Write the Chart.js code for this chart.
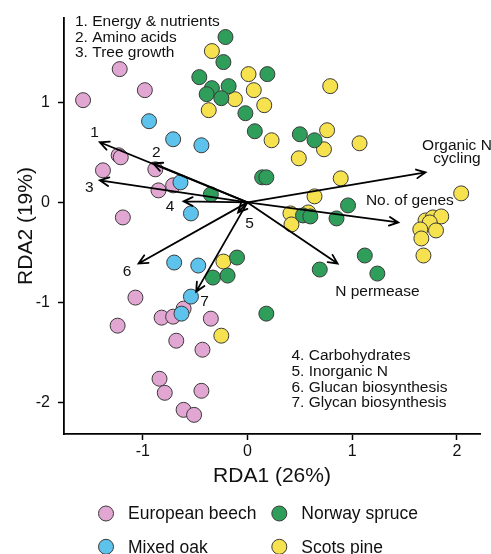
<!DOCTYPE html>
<html>
<head>
<meta charset="utf-8">
<script src="https://cdn.jsdelivr.net/npm/chart.js@4.4.1/dist/chart.umd.min.js"></script>
<style>
  body { margin: 0; background: #fff; }
</style>
</head>
<body>
<canvas id="rda-plot" width="491" height="554"></canvas>
<script>
// site scores
beechX = [-1.22, -0.98, -1.57, -1.23, -1.21, -1.38, -0.88, -0.85, -0.71, -1.19, -1.07, -1.24, -0.82, -0.71, -0.61, -0.35, -0.68, -0.43, -0.84, -0.79, -0.44, -0.61, -0.51];
beechY = [1.33, 1.12, 1.02, 0.47, 0.45, 0.32, 0.33, 0.12, 0.17, -0.15, -0.95, -1.23, -1.15, -1.14, -1.06, -1.16, -1.38, -1.47, -1.76, -1.90, -1.88, -2.07, -2.12];

oakX = [-0.94, -0.71, -0.44, -0.64, -0.54, -0.70, -0.47, -0.54, -0.63];
oakY = [0.81, 0.63, 0.57, 0.20, -0.11, -0.60, -0.63, -0.94, -1.11];

spruceX = [-0.21, -0.23, -0.46, 0.19, -0.34, -0.39, -0.18, -0.25, -0.02, 0.07, 0.14, 0.18, -0.35, 0.50, 0.64, 0.96, 0.53, 0.60, 0.85, 1.12, 0.69, 1.24, 0.18, -0.10, -0.33, -0.19];
spruceY = [1.65, 1.40, 1.25, 1.28, 1.14, 1.08, 1.16, 1.04, 0.89, 0.71, 0.25, 0.25, 0.08, 0.68, 0.62, -0.03, -0.13, -0.14, -0.16, -0.53, -0.67, -0.71, -1.11, -0.55, -0.75, -0.73];

pineX = [-0.34, 0.01, 0.06, -0.12, -0.37, 0.16, 0.23, 0.79, 0.76, 0.73, 1.07, 0.49, 0.89, 0.64, 2.04, 0.41, 0.42, 0.58, 1.70, 1.77, 1.85, 1.74, 1.65, 1.80, 1.66, 1.68, -0.23, -0.25];
pineY = [1.51, 1.28, 1.12, 1.03, 0.92, 0.97, 0.62, 1.16, 0.72, 0.53, 0.59, 0.44, 0.24, 0.06, 0.09, -0.11, -0.22, -0.10, -0.18, -0.15, -0.14, -0.20, -0.27, -0.28, -0.36, -0.53, -0.59, -1.33];

groupNames = ['European beech', 'Norway spruce', 'Mixed oak', 'Scots pine'];

// fitted vectors (arrow tips) and where their labels sit
vectorNames = ['1', '2', '3', '4', '5', '6', '7', 'Organic N|cycling', 'No. of genes', 'N permease'];
vectorX = [-1.41, -0.90, -1.41, -0.61, -0.09, -1.04, -0.49, 1.70, 1.44, 0.86];
vectorY = [0.60, 0.39, 0.22, 0.01, -0.10, -0.61, -0.89, 0.30, -0.20, -0.61];
labelX = [-1.46, -0.87, -1.51, -0.74, 0.02, -1.15, -0.41, 2.00, 1.55, 1.24];
labelY = [0.70, 0.50, 0.15, -0.04, -0.21, -0.69, -0.99, 0.50, 0.02, -0.89];

keyTop = ['1. Energy & nutrients', '2. Amino acids', '3. Tree growth'];
keyBottom = ['4. Carbohydrates', '5. Inorganic N', '6. Glucan biosynthesis', '7. Glycan biosynthesis'];

xTicks = [-1, 0, 1, 2];
yTicks = [-2, -1, 0, 1];

beechColor = '#e2a6d3';
spruceColor = '#2f9e5b';
oakColor = '#5ec3ec';
pineColor = '#f6e14e';
fontFamily = "'Liberation Sans', Arial, Helvetica, sans-serif";
inkColor = '#111111';

Chart.defaults.font.family = fontFamily;
Chart.defaults.color = inkColor;

function toPoints(xs, ys) {
    return xs.map((x, i) => ({ x: x, y: ys[i] }));
}

function pointSet(label, xs, ys, color) {
    return {
        label: label,
        data: toPoints(xs, ys),
        backgroundColor: color,
        borderColor: '#3a3a3a',
        borderWidth: 1,
        pointRadius: 7.5,
        pointHoverRadius: 7.5,
    };
}

// arrows and the two text keys
const vectorPlugin = {
    id: 'vectors',
    afterDatasetsDraw(chart) {
        const ctx = chart.ctx;
        const xs = chart.scales.x;
        const ys = chart.scales.y;
        const ox = xs.getPixelForValue(0);
        const oy = ys.getPixelForValue(0);
        ctx.save();
        ctx.strokeStyle = '#000';
        ctx.lineWidth = 1.8;
        ctx.lineCap = 'round';
        vectorNames.forEach((name, i) => {
            const tx = xs.getPixelForValue(vectorX[i]);
            const ty = ys.getPixelForValue(vectorY[i]);
            const ang = Math.atan2(ty - oy, tx - ox);
            const head = 10;
            ctx.beginPath();
            ctx.moveTo(ox, oy);
            ctx.lineTo(tx, ty);
            ctx.moveTo(tx - head * Math.cos(ang - 0.45), ty - head * Math.sin(ang - 0.45));
            ctx.lineTo(tx, ty);
            ctx.lineTo(tx - head * Math.cos(ang + 0.45), ty - head * Math.sin(ang + 0.45));
            ctx.stroke();
        });

        ctx.fillStyle = inkColor;
        ctx.font = '15.5px ' + fontFamily;
        ctx.textAlign = 'center';
        ctx.textBaseline = 'middle';
        vectorNames.forEach((name, i) => {
            const lx = xs.getPixelForValue(labelX[i]);
            const ly = ys.getPixelForValue(labelY[i]);
            const lines = name.split('|');
            lines.forEach((line, j) => {
                ctx.fillText(line, lx, ly + (j - (lines.length - 1) / 2) * 13);
            });
        });

        ctx.textAlign = 'left';
        const area = chart.chartArea;
        keyTop.forEach((line, i) => {
            ctx.fillText(line, area.left + 11, area.top + 4 + i * 15.3);
        });
        keyBottom.forEach((line, i) => {
            ctx.fillText(line, xs.getPixelForValue(0.42), ys.getPixelForValue(-1.53) + i * 15.8);
        });
        ctx.restore();
    },
};

// legend in two columns under the x-axis title
const legendPlugin = {
    id: 'groupLegend',
    afterDraw(chart) {
        const ctx = chart.ctx;
        const colors = [beechColor, spruceColor, oakColor, pineColor];
        ctx.save();
        ctx.font = '17.5px ' + fontFamily;
        ctx.textBaseline = 'middle';
        ctx.textAlign = 'left';
        groupNames.forEach((name, i) => {
            const cx = 106 + (i % 2) * 173.3;
            const cy = 513.5 + Math.floor(i / 2) * 33.3;
            ctx.beginPath();
            ctx.arc(cx, cy, 7.5, 0, Math.PI * 2);
            ctx.fillStyle = colors[i];
            ctx.fill();
            ctx.lineWidth = 1;
            ctx.strokeStyle = '#3a3a3a';
            ctx.stroke();
            ctx.fillStyle = inkColor;
            ctx.fillText(name, cx + 22, cy + 1);
        });
        ctx.restore();
    },
};

const axisGrid = {
    display: true,
    drawOnChartArea: false,
    drawTicks: true,
    tickLength: 6,
    tickWidth: 1.5,
    color: '#000',
};

new Chart(document.getElementById('rda-plot'), {
    type: 'scatter',
    data: {
        datasets: [
            pointSet('Norway spruce', spruceX, spruceY, spruceColor),
            pointSet('Mixed oak', oakX, oakY, oakColor),
            pointSet('Scots pine', pineX, pineY, pineColor),
            pointSet('European beech', beechX, beechY, beechColor),
        ],
    },
    options: {
        responsive: false,
        animation: false,
        layout: {
            padding: { top: 18, right: 11, bottom: 61, left: 0 },
        },
        plugins: {
            legend: { display: false },
            tooltip: { enabled: false },
        },
        scales: {
            x: {
                type: 'linear',
                min: -1.752,
                max: 2.22,
                afterFit: (scale) => { scale.height = 59; },
                afterBuildTicks: (scale) => { scale.ticks = xTicks.map((v) => ({ value: v })); },
                grid: axisGrid,
                border: { display: true, color: '#000', width: 1.8 },
                ticks: {
                    font: { size: 16 },
                    color: inkColor,
                    padding: 2,
                    maxRotation: 0,
                },
                title: {
                    display: true,
                    text: 'RDA1 (26%)',
                    font: { size: 21 },
                    color: inkColor,
                    padding: { top: 0, bottom: 4 },
                },
            },
            y: {
                type: 'linear',
                min: -2.311,
                max: 1.84,
                afterFit: (scale) => { scale.width = 64; },
                afterBuildTicks: (scale) => { scale.ticks = yTicks.map((v) => ({ value: v })); },
                grid: axisGrid,
                border: { display: true, color: '#000', width: 1.8 },
                ticks: {
                    font: { size: 16 },
                    color: inkColor,
                    padding: 8,
                },
                title: {
                    display: true,
                    text: 'RDA2 (19%)',
                    font: { size: 21 },
                    color: inkColor,
                    padding: { top: 14, bottom: 0 },
                },
            },
        },
    },
    plugins: [vectorPlugin, legendPlugin],
});
</script>
</body>
</html>
